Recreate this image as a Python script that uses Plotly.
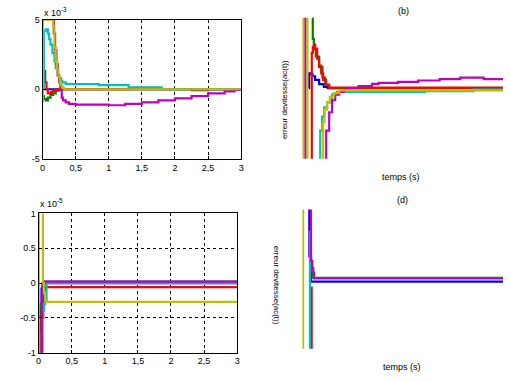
import plotly.graph_objects as go

# ---------------- data ----------------
COLORS = {"blue": "#0000FF", "green": "#008000", "red": "#FF0000",
          "cyan": "#00BFBF", "magenta": "#BF00BF", "yellow": "#BFBF00"}
ORDER = ["blue", "green", "red", "cyan", "magenta", "yellow"]

# panel (a): values in units of 1e-3
a_blue_t = [0.02, 0.3, 3.0]
a_blue_y = [0.0, 0.0, 0.0]
a_green_t = [0.0, 0.02, 0.05, 0.08, 0.12, 0.16, 0.2, 0.25, 3.0]
a_green_y = [-0.5, -0.7, -0.8, -0.6, -0.4, -0.3, -0.1, 0.0, 0.0]
a_red_t = [0.02, 0.04, 0.06, 0.08, 0.1, 0.13, 0.16, 0.2, 2.25, 2.5, 3.0]
a_red_y = [1.3, 0.5, 0.0, -0.3, -0.3, -0.2, -0.1, 0.0, -0.07, 0.0, 0.0]
a_cyan_t = [0.0, 0.02, 0.05, 0.08, 0.1, 0.12, 0.15, 0.18, 0.2, 0.23, 0.25, 0.28, 0.3, 0.35, 0.85, 1.3, 1.8, 3.0]
a_cyan_y = [0.0, 4.2, 4.3, 4.0, 3.6, 3.2, 2.6, 2.0, 1.5, 1.0, 0.8, 0.6, 0.5, 0.37, 0.3, 0.14, 0.0, 0.0]
a_magenta_t = [0.15, 0.17, 0.19, 0.21, 0.23, 0.25, 0.27, 0.29, 0.31, 0.35, 0.4, 0.5, 1.0, 1.25, 1.5, 1.75, 2.0, 2.25, 2.5, 2.75, 2.9, 3.0]
a_magenta_y = [5.5, 4.0, 2.8, 1.8, 1.0, 0.5, 0.0, -0.6, -0.8, -0.95, -1.05, -1.1, -1.15, -1.05, -0.95, -0.8, -0.66, -0.5, -0.3, -0.15, -0.05, 0.0]
a_yellow_t = [0.0, 0.005, 0.16, 0.18, 0.2, 0.22, 0.24, 0.26, 0.28, 0.3, 0.33, 3.0]
a_yellow_y = [-0.9, 5.0, 4.5, 3.0, 2.0, 1.4, 0.9, 0.5, 0.3, 0.1, 0.0, 0.0]

# panel (b)
b_blue_t = [0.095, 0.1, 0.12, 0.15, 0.19, 0.25, 0.32, 0.38, 3.0]
b_blue_y = [0.0, 0.21, 0.2, 0.17, 0.12, 0.06, 0.02, 0.0, 0.0]
b_green_t = [0.0, 0.155, 0.17, 0.2, 0.25, 0.3, 0.34, 0.4, 3.0]
b_green_y = [3.0, 0.7, 0.55, 0.45, 0.3, 0.15, 0.05, 0.0, 0.0]
b_red_t = [0.0, 0.14, 0.155, 0.173, 0.19, 0.22, 0.25, 0.28, 0.31, 0.355, 0.4, 3.0]
b_red_y = [-3.0, 0.5, 0.58, 0.62, 0.56, 0.42, 0.32, 0.21, 0.12, 0.05, 0.01, -0.015]
b_cyan_t = [0.0, 0.266, 0.295, 0.325, 0.37, 0.443, 0.517, 1.83, 2.56, 3.0]
b_cyan_y = [-3.0, -0.6, -0.4, -0.27, -0.2, -0.09, -0.05, -0.04, -0.02, -0.02]
b_magenta_t = [0.0, 0.044, 0.355, 0.4, 0.443, 0.49, 0.55, 0.62, 0.69, 0.84, 1.04, 1.14, 1.43, 1.73, 2.05, 2.36, 2.71, 3.0]
b_magenta_y = [3.0, -3.0, -0.6, -0.34, -0.17, -0.09, -0.05, -0.02, 0.0, 0.03, 0.062, 0.076, 0.09, 0.11, 0.13, 0.15, 0.13, 0.13]
b_yellow_t = [0.0, 0.01, 0.075, 0.31, 0.33, 0.37, 0.41, 0.47, 0.55, 3.0]
b_yellow_y = [-3.0, 3.0, -3.0, -0.48, -0.3, -0.2, -0.12, -0.07, -0.03, -0.03]

# panel (c): values in units of 1e-5
c_blue_t = [0.0, 0.007, 0.025, 0.045, 0.06, 3.0]
c_blue_y = [-1.2, -0.62, -0.3, -0.08, 0.0, 0.0]
c_green_t = [0.0, 0.015, 0.035, 0.06, 0.09, 3.0]
c_green_y = [-1.2, -0.7, -0.3, -0.05, 0.02, 0.02]
c_red_t = [0.0, 0.045, 0.07, 0.085, 0.1, 3.0]
c_red_y = [-1.2, -0.5, -0.15, -0.1, -0.06, -0.06]
c_cyan_t = [0.03, 0.06, 0.08, 0.1, 0.12, 3.0]
c_cyan_y = [-1.2, -0.4, -0.3, -0.25, 0.0, 0.0]
c_magenta_t = [0.0, 0.05, 0.07, 0.09, 3.0]
c_magenta_y = [-1.2, -0.2, 0.0, 0.02, 0.02]
c_yellow_t = [0.0, 0.003, 0.06, 0.065, 0.08, 0.1, 3.0]
c_yellow_y = [-1.2, 1.2, 1.2, 0.0, -0.15, -0.27, -0.27]

# panel (d)
d_blue_t = [0.0, 0.103, 0.13, 3.0]
d_blue_y = [3.0, 0.33, -0.035, -0.035]
d_green_t = [0.125, 0.14, 0.16, 3.0]
d_green_y = [0.23, 0.1, 0.02, 0.02]
d_red_t = [0.13, 0.138, 3.0]
d_red_y = [-0.12, -3.0, -3.0]
d_cyan_t = [0.105, 0.112, 3.0]
d_cyan_y = [0.69, -3.0, -3.0]
d_magenta_t = [0.0, 0.128, 0.148, 0.162, 0.175, 3.0]
d_magenta_y = [3.0, 0.26, 0.16, 0.09, 0.01, 0.01]
d_yellow_t = [0.0, 0.01, 3.0]
d_yellow_y = [3.0, -3.0, -3.0]

x_tickvals = [0, 0.5, 1, 1.5, 2, 2.5, 3]
x_ticktext = ["0", "0,5", "1", "1,5", "2", "2,5", "3"]
a_tickvals = [-5, 0, 5]
a_ticktext = ["-5", "0", "5"]
c_tickvals = [-1, -0.5, 0, 0.5, 1]
c_ticktext = ["-1", "-0.5", "0", "0.5", "1"]

# ---------------- figure ----------------
W, H = 510, 382
fig = go.Figure()
g = globals()
panels = [("a", "x", "y"), ("b", "x2", "y2"), ("c", "x3", "y3"), ("d", "x4", "y4")]
for p, xa, ya in panels:
    for c in ORDER:
        fig.add_trace(go.Scatter(
            x=g[f"{p}_{c}_t"], y=g[f"{p}_{c}_y"], mode="lines",
            line=dict(color=COLORS[c], width=2.2, shape="hv"),
            xaxis=xa, yaxis=ya, showlegend=False, hoverinfo="skip"))

def px_dom(x0, x1):
    return [x0 / W, x1 / W]

def py_dom(ytop, ybot):
    return [1 - ybot / H, 1 - ytop / H]

font = dict(family="Liberation Sans, Arial, sans-serif", size=9, color="black")
boxed = dict(showline=True, linecolor="black", linewidth=1, mirror=True,
             ticks="inside", ticklen=3, tickcolor="black",
             gridcolor="black", griddash="dot", gridwidth=1,
             zeroline=False, tickfont=font)
hidden = dict(visible=False, showgrid=False, zeroline=False)

fig.update_layout(
    width=W, height=H, margin=dict(l=0, r=0, t=0, b=0),
    paper_bgcolor="white", plot_bgcolor="white", showlegend=False,
    xaxis=dict(domain=px_dom(40, 241), range=[0, 3], tickvals=x_tickvals,
               ticktext=x_ticktext, showgrid=True, anchor="y", **boxed),
    yaxis=dict(domain=py_dom(15, 158), range=[-5, 5], tickvals=a_tickvals,
               ticktext=a_ticktext, showgrid=True, anchor="x", **boxed),
    xaxis2=dict(domain=px_dom(303, 506), range=[0, 3], anchor="y2", **hidden),
    yaxis2=dict(domain=py_dom(13, 158), range=[-1, 1], anchor="x2", **hidden),
    xaxis3=dict(domain=px_dom(36, 237), range=[0, 3], tickvals=x_tickvals,
                ticktext=x_ticktext, showgrid=True, anchor="y3", **boxed),
    yaxis3=dict(domain=py_dom(214, 357), range=[-1, 1], tickvals=c_tickvals,
                ticktext=c_ticktext, showgrid=True, anchor="x3", **boxed),
    xaxis4=dict(domain=px_dom(303, 506), range=[0, 3], anchor="y4", **hidden),
    yaxis4=dict(domain=py_dom(210, 353), range=[-1, 1], anchor="x4", **hidden),
)

def ann(text, x, y, angle=0, size=9, xanchor="center", yanchor="middle"):
    fig.add_annotation(text=text, x=x / W, y=1 - y / H, xref="paper", yref="paper",
                       showarrow=False, textangle=angle, xanchor=xanchor, yanchor=yanchor,
                       font=dict(family="Liberation Sans, Arial, sans-serif", size=size, color="black"))

ann("x 10<sup>-3</sup>", 39, 7, xanchor="left")
ann("x 10<sup>-5</sup>", 35, 203, xanchor="left")
ann("(b)", 405, 6)
ann("(d)", 404, 200)
ann("temps (s)", 403, 177, size=9)
ann("temps (s)", 404, 372, size=9)
ann("erreur devitesse(ac(t))", 285, 97, angle=-90, size=8)
ann("erreur devitesse(ac(t))", 277, 288, angle=90, size=8)

fig.write_html("out.html", config={"displayModeBar": False, "staticPlot": True},
               post_script="document.body.style.margin='0';document.body.style.overflow='hidden';")
